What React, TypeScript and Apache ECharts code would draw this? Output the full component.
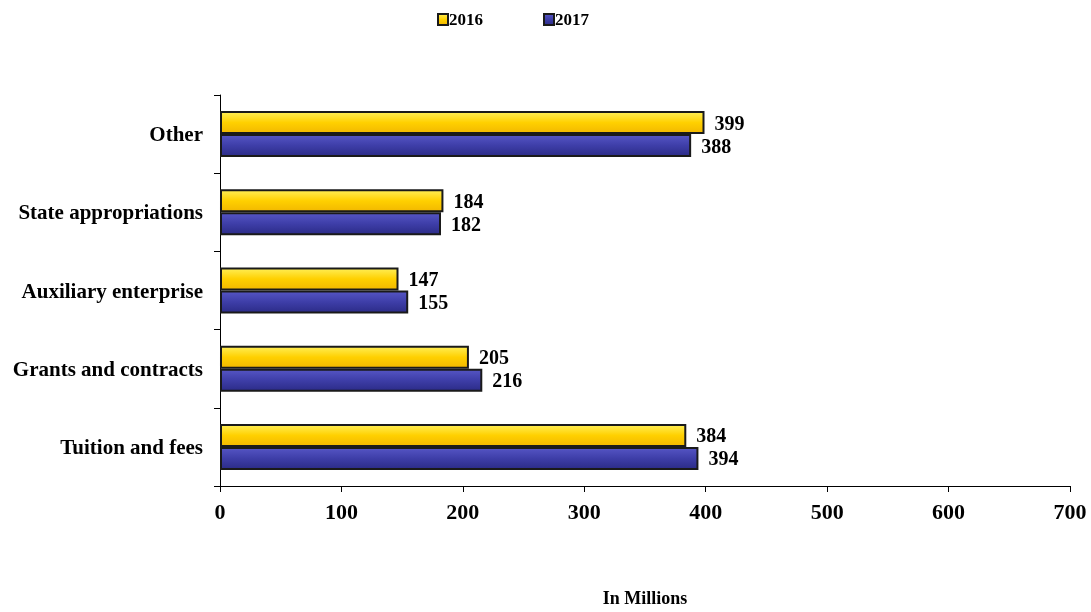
import React, { useEffect, useRef } from "react";
import * as echarts from "echarts";

const categories = ["Tuition and fees", "Grants and contracts", "Auxiliary enterprise", "State appropriations", "Other"];
const values2016 = [384, 205, 147, 184, 399];
const values2017 = [394, 216, 155, 182, 388];
const xTicks = [0, 100, 200, 300, 400, 500, 600, 700];

const FONT = "'Liberation Serif', 'Times New Roman', serif";

export default function App() {
  const ref = useRef<HTMLDivElement>(null);
  useEffect(() => {
    const chart = echarts.init(ref.current!, null, { renderer: "svg" });
    const yellow = new echarts.graphic.LinearGradient(0, 0, 0, 1, [
      { offset: 0, color: "#FFEE55" },
      { offset: 0.5, color: "#FFD000" },
      { offset: 1, color: "#F2B800" },
    ]);
    const blue = new echarts.graphic.LinearGradient(0, 0, 0, 1, [
      { offset: 0, color: "#5555C4" },
      { offset: 0.5, color: "#3E3EA8" },
      { offset: 1, color: "#2C2C88" },
    ]);
    const label = {
      show: true,
      position: "right",
      distance: 10,
      color: "#000",
      fontFamily: FONT,
      fontWeight: "bold",
      fontSize: 20,
    };
    chart.setOption({
      animation: false,
      textStyle: { fontFamily: FONT },
      legend: {
        top: 6,
        left: 432,
        itemWidth: 10,
        itemHeight: 11,
        itemGap: 60,
        icon: "rect",
        data: ["2016", "2017"],
        textStyle: { fontFamily: FONT, fontWeight: "bold", fontSize: 17, color: "#000", padding: [0, 0, 0, -4] },
      },
      grid: { left: 220, right: 21, top: 95, bottom: 123 },
      xAxis: {
        type: "value",
        min: xTicks[0],
        max: xTicks[xTicks.length - 1],
        interval: 100,
        name: "In Millions",
        nameLocation: "middle",
        nameGap: 103,
        nameTextStyle: { fontFamily: FONT, fontWeight: "bold", fontSize: 18, color: "#000" },
        axisLine: { show: true, lineStyle: { color: "#000", width: 1 } },
        axisTick: { show: true, length: 6, lineStyle: { color: "#000" } },
        splitLine: { show: false },
        axisLabel: { fontFamily: FONT, fontWeight: "bold", fontSize: 22, color: "#000", margin: 14 },
      },
      yAxis: {
        type: "category",
        data: categories,
        axisLine: { show: true, lineStyle: { color: "#000", width: 1 } },
        axisTick: { show: true, length: 6, lineStyle: { color: "#000" } },
        axisLabel: { fontFamily: FONT, fontWeight: "bold", fontSize: 21, color: "#000", margin: 17 },
      },
      series: [
        {
          name: "2016",
          type: "bar",
          data: values2016,
          barWidth: 23,
          barGap: "0%",
          itemStyle: { color: yellow, borderColor: "#1a1a1a", borderWidth: 2 },
          label,
        },
        {
          name: "2017",
          type: "bar",
          data: values2017,
          barWidth: 23,
          barGap: "0%",
          itemStyle: { color: blue, borderColor: "#1a1a1a", borderWidth: 2 },
          label,
        },
      ],
    });
    return () => chart.dispose();
  }, []);
  return <div ref={ref} style={{ position: "fixed", left: 0, top: 0, width: 1091, height: 612 }} />;
}
